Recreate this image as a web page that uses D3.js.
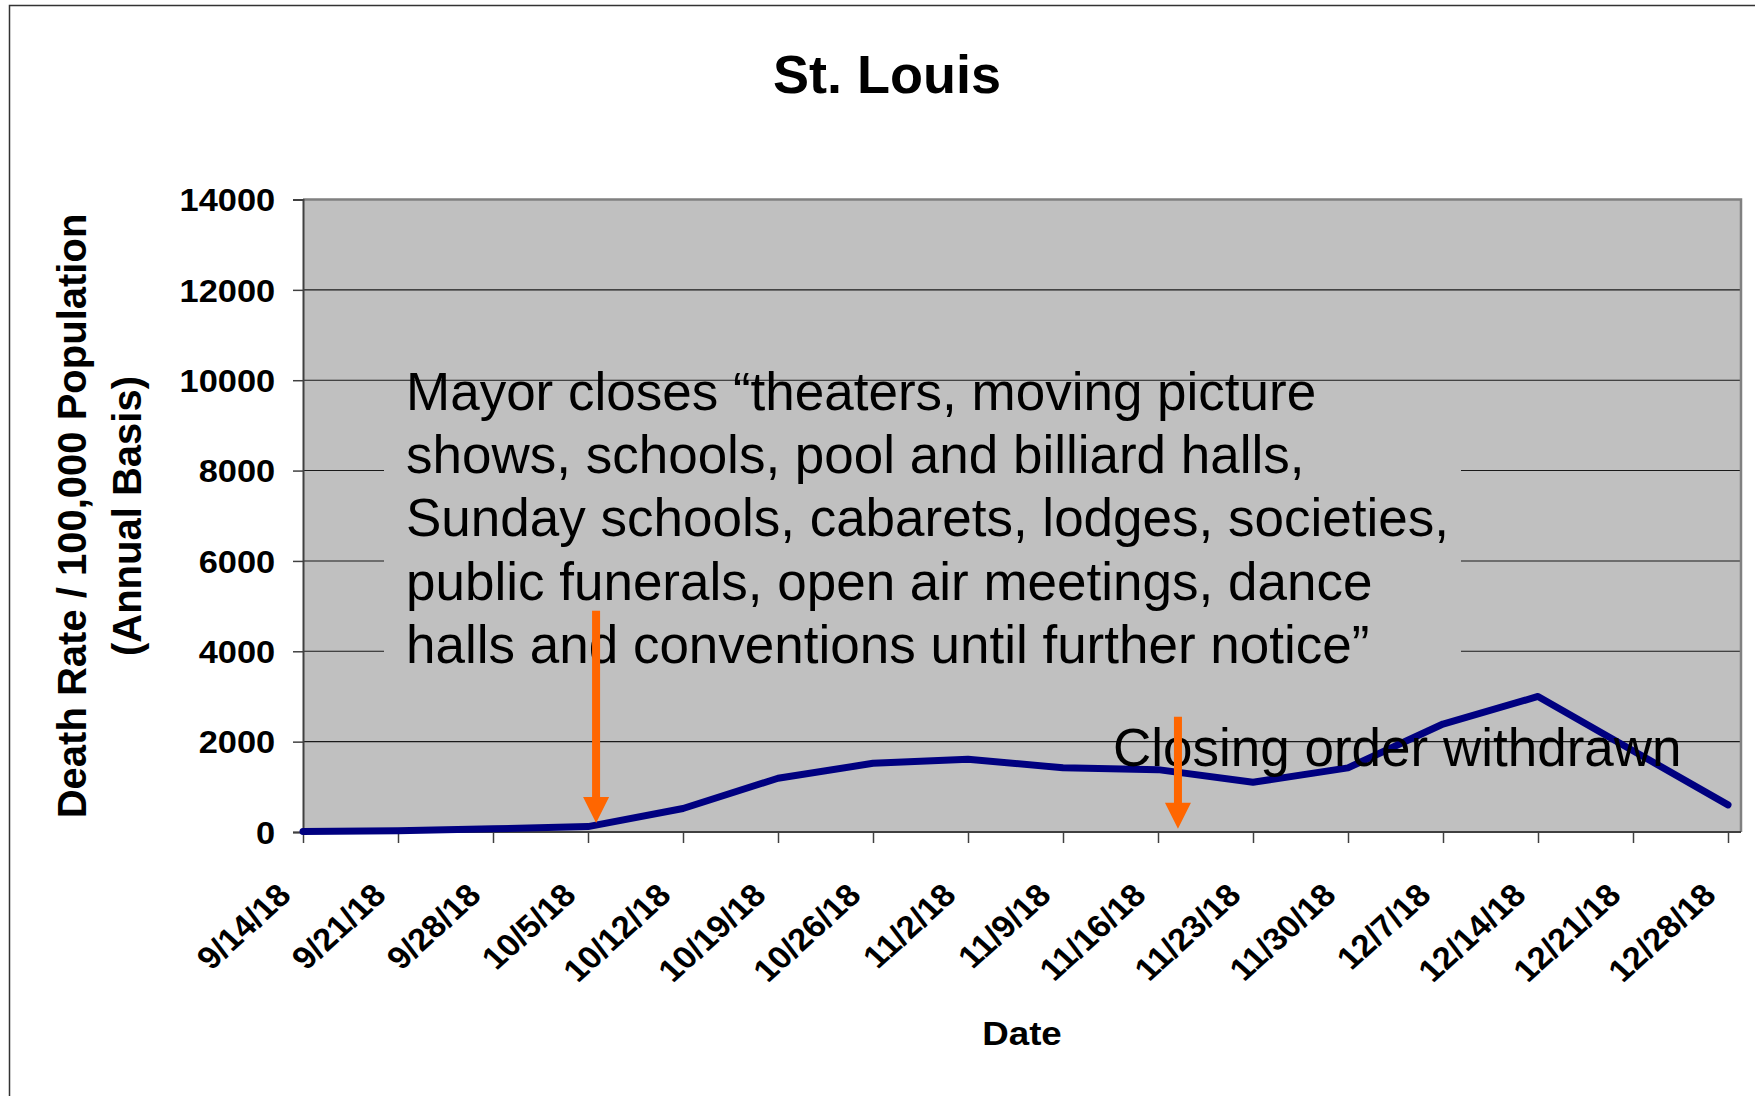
<!DOCTYPE html>
<html>
<head>
<meta charset="utf-8">
<script src="https://cdn.jsdelivr.net/npm/d3@7"></script>
<style>
  body { margin: 0; background: #fff; }
  svg { display: block; }
  text { font-family: "Liberation Sans", Arial, sans-serif; }
</style>
</head>
<body>
<svg id="chart" width="1755" height="1096"></svg>
<script>
// Weekly death rate per 100,000 (annual basis), St. Louis, autumn 1918
const weeks = ["9/14/18", "9/21/18", "9/28/18", "10/5/18", "10/12/18", "10/19/18",
  "10/26/18", "11/2/18", "11/9/18", "11/16/18", "11/23/18", "11/30/18",
  "12/7/18", "12/14/18", "12/21/18", "12/28/18"];
const deathRate = [10, 30, 70, 120, 520, 1190, 1520, 1610, 1420, 1380, 1100, 1420,
  2390, 3000, 1800, 600];
const yTicks = [0, 2000, 4000, 6000, 8000, 10000, 12000, 14000];

// Annotations
const closingNote = [
  "Mayor closes \u201ctheaters, moving picture",
  "shows, schools, pool and billiard halls,",
  "Sunday schools, cabarets, lodges, societies,",
  "public funerals, open air meetings, dance",
  "halls and conventions until further notice\u201d"
];
const reopenNote = "Closing order withdrawn";
// arrow position as fractional week index, shaft start / tip in chart units
const arrowMarks = [
  { at: 3.085, from: 4900, to: 200 },
  { at: 9.21, from: 2550, to: 70 }
];

const svg = d3.select("#chart");
const plot = { left: 303, right: 1741, top: 199.5, bottom: 832 };

const x = d3.scalePoint().domain(weeks).range([303, 1728]);
const xIdx = d3.scaleLinear().domain([0, weeks.length - 1]).range([303, 1728]);
const y = d3.scaleLinear().domain([0, 14000]).range([plot.bottom, plot.top]);

// outer chart frame
svg.append("path")
  .attr("d", "M9.5,1100 L9.5,5.5 L1760,5.5")
  .attr("fill", "none").attr("stroke", "#333").attr("stroke-width", 1.5);

// title
svg.append("text")
  .attr("x", 887).attr("y", 93)
  .attr("text-anchor", "middle")
  .attr("font-size", 54).attr("font-weight", "bold")
  .text("St. Louis");

// plot background
svg.append("rect")
  .attr("x", plot.left).attr("y", plot.top)
  .attr("width", plot.right - plot.left).attr("height", plot.bottom - plot.top)
  .attr("fill", "#c0c0c0");

// gridlines
svg.append("g").selectAll("line")
  .data(yTicks.filter(d => d > 0 && d < 14000))
  .join("line")
  .attr("x1", plot.left).attr("x2", plot.right)
  .attr("y1", d => y(d)).attr("y2", d => y(d))
  .attr("stroke", "#1a1a1a").attr("stroke-width", 1.1);

// plot border (top / right)
svg.append("path")
  .attr("d", `M${plot.left},${plot.top} L${plot.right},${plot.top} L${plot.right},${plot.bottom}`)
  .attr("fill", "none").attr("stroke", "#808080").attr("stroke-width", 2.5);

// y axis
const yAxis = svg.append("g")
  .attr("transform", `translate(${plot.left},0)`)
  .call(d3.axisLeft(y).tickValues(yTicks).tickSize(10).tickPadding(0).tickFormat(d3.format("d")));
yAxis.select(".domain").attr("stroke", "#404040").attr("stroke-width", 2);
yAxis.selectAll(".tick line").attr("stroke", "#404040").attr("stroke-width", 1.5);
yAxis.selectAll(".tick text")
  .attr("x", -25).attr("dy", "0.36em")
  .attr("transform", "scale(1.11,1)")
  .attr("font-size", 31).attr("font-weight", "bold")
  .attr("fill", "#000")
  .attr("font-family", "Liberation Sans, Arial, sans-serif");

// x axis
const xAxis = svg.append("g")
  .attr("transform", `translate(0,${plot.bottom})`)
  .call(d3.axisBottom(x).tickSize(11).tickFormat(""));
xAxis.select(".domain").remove();
xAxis.selectAll(".tick line").attr("stroke", "#404040").attr("stroke-width", 1.5);
svg.append("line")
  .attr("x1", plot.left).attr("x2", plot.right)
  .attr("y1", plot.bottom).attr("y2", plot.bottom)
  .attr("stroke", "#404040").attr("stroke-width", 2);

// rotated date labels
svg.append("g").selectAll("text")
  .data(weeks)
  .join("text")
  .attr("transform", d => `translate(${x(d) - 10},${plot.bottom + 65}) scale(1.1,1) rotate(-45)`)
  .attr("text-anchor", "end")
  .attr("font-size", 31.5).attr("font-weight", "bold")
  .text(d => d);

// axis titles
svg.append("text")
  .attr("transform", `translate(1022,1045) scale(1.08,1)`)
  .attr("text-anchor", "middle")
  .attr("font-size", 34).attr("font-weight", "bold")
  .text("Date");

const yTitle = svg.append("text")
  .attr("transform", `translate(0,516) rotate(-90)`)
  .attr("text-anchor", "middle")
  .attr("font-size", 40).attr("font-weight", "bold");
yTitle.append("tspan").attr("x", 0).attr("y", 86).text("Death Rate / 100,000 Population");
yTitle.append("tspan").attr("x", 0).attr("y", 141).text("(Annual Basis)");

// opaque text box for the closing order quote
svg.append("rect")
  .attr("x", 384).attr("y", 383)
  .attr("width", 1461 - 384).attr("height", 297)
  .attr("fill", "#c0c0c0");
svg.append("text")
  .attr("font-size", 53)
  .selectAll("tspan")
  .data(closingNote)
  .join("tspan")
  .attr("x", 406)
  .attr("y", (d, i) => 410 + i * 63.2)
  .text(d => d);

// death rate series
svg.append("path")
  .datum(deathRate)
  .attr("fill", "none")
  .attr("stroke", "#000080")
  .attr("stroke-width", 7)
  .attr("stroke-linejoin", "round")
  .attr("stroke-linecap", "round")
  .attr("d", d3.line().x((d, i) => x(weeks[i])).y(d => y(d)));

svg.append("text")
  .attr("x", 1113).attr("y", 766)
  .attr("font-size", 53)
  .text(reopenNote);

// orange arrows
const arrows = svg.append("g").attr("fill", "#ff6600");
arrowMarks.forEach(a => {
  const ax = xIdx(a.at), y0 = y(a.from), tip = y(a.to);
  const headLen = 26, headHalf = 13, shaftHalf = 4;
  const hb = tip - headLen;
  arrows.append("path").attr("d",
    `M${ax - shaftHalf},${y0} L${ax + shaftHalf},${y0} L${ax + shaftHalf},${hb} ` +
    `L${ax + headHalf},${hb} L${ax},${tip} L${ax - headHalf},${hb} L${ax - shaftHalf},${hb} Z`);
});
</script>
</body>
</html>
